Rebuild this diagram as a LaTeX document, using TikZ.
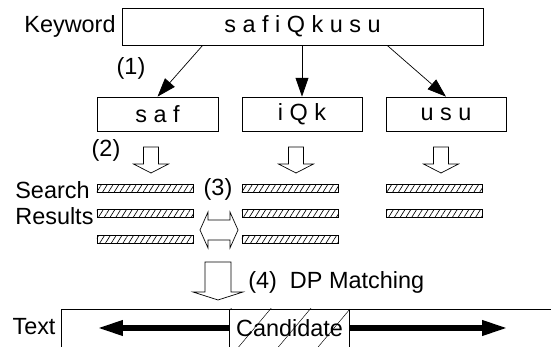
\documentclass[tikz,border=0pt]{standalone}
\usepackage{fontspec}
\setmainfont{Liberation Sans}
\usetikzlibrary{arrows.meta,patterns.meta,calc}

\tikzset{
  % hollow block arrows, #1 half shaft, #2 half head, #3 shaft length, #4 head length
  pics/hollow down/.style n args={4}{code={
    \draw[fill=white] (-#1,0) -- (#1,0) -- (#1,#3) -- (#2,#3) -- (0,#3+#4)
      -- (-#2,#3) -- (-#1,#3) -- cycle;}},
  pics/hollow both/.style={code={
    \draw[fill=white] (-11,-10) -- (11,-10) -- (11,-18) -- (19,0) -- (11,18)
      -- (11,10) -- (-11,10) -- (-11,18) -- (-19,0) -- (-11,-18) -- cycle;}}
}

\begin{document}
\begin{tikzpicture}[x=0.03cm,y=-0.03cm,semithick,
  font=\fontsize{20}{24}\selectfont,
  box/.style={draw,rectangle,inner sep=0pt},
  hit/.style={draw,rectangle,inner sep=0pt,minimum width=2.88cm,minimum height=0.22cm,
    pattern={Lines[angle=58,distance=4.2pt,line width=0.55pt]}},
  tag/.style={inner sep=0pt},
  split/.style={-{Triangle[length=16pt,width=11pt]}},
  span/.style={line width=5pt,-{Triangle[length=22pt,width=12pt]}}]
\clip (0,0) rectangle (551,347);

% keyword and its pieces
\node[box,minimum width=10.83cm,minimum height=1.11cm] (kw) at (302.5,26.5) {s a f i Q k u s u};
\node[tag] (kwlabel) at (70,26) {Keyword};
\node[tag] (step1) at (131,68) {(1)};
\node[box,minimum width=3.63cm,minimum height=1.02cm] (saf) at (157.5,114) {s a f};
\node[box,minimum width=3.6cm,minimum height=1.02cm] (iqk) at (302,114) {i Q k};
\node[box,minimum width=3.6cm,minimum height=1.02cm] (usu) at (446,114) {u s u};

\draw[split] ($(kw.south west)!0.224!(kw.south east)$) -- (saf.north);
\draw[split] (kw.south -| iqk.north) -- (iqk.north);
\draw[split] ($(kw.south west)!0.734!(kw.south east)$) -- (usu.north);

% searching each piece
\node[tag] (step2) at (106,150) {(2)};
\pic at (151,147) {hollow down={7.5}{17.5}{17}{9}};
\pic at (296,147) {hollow down={7.5}{17.5}{17}{9}};
\pic at (441,147) {hollow down={7.5}{17.5}{17}{9}};

\node[tag,anchor=west] (search) at (15,190) {Search};
\node[tag,anchor=west] (results) at (15,216) {Results};
\foreach \y [count=\i] in {188.5,213.5,239.5} {
  \node[hit] (hitA\i) at (145,\y) {};
  \node[hit] (hitB\i) at (290,\y) {};
}
\node[hit] (hitC1) at (434,188.5) {};
\node[hit] (hitC2) at (434,213.5) {};

% comparing neighbouring results
\node[tag] (step3) at (218,189) {(3)};
\pic at (219,230) {hollow both};

% DP matching against the text
\pic at (218,262) {hollow down={13}{25}{30}{8}};
\node[tag,anchor=west] (step4) at (248,282) {(4)\ \ DP Matching};

\node[box,anchor=north west,minimum width=16cm,minimum height=1.5cm] (text) at (61,309) {};
\node[tag] (textlabel) at (34,327) {Text};
\node[rectangle,inner sep=0pt,minimum width=3.57cm,minimum height=1.14cm,
  pattern={Lines[angle=50,distance=26pt,line width=0.4pt]}] (cand) at (289.5,328) {Candidate};
\draw (cand.north west) -- (cand.south west);
\draw (cand.north east) -- (cand.south east);
\coordinate (lefttip) at (97,328);
\coordinate (righttip) at (508,328);
\draw[span] (cand.west) -- (lefttip);
\draw[span] (cand.east) -- (righttip);
\end{tikzpicture}
\end{document}
